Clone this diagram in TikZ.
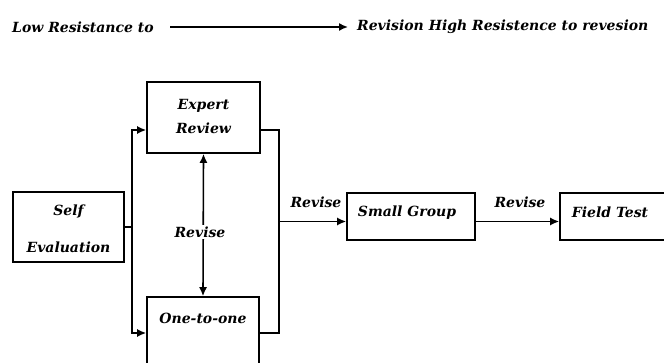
\documentclass[tikz,border=0pt]{standalone}
\usepackage{fontspec}
\setmainfont{DejaVu Serif}
\usetikzlibrary{arrows.meta}
\begin{document}
\begin{tikzpicture}[x=1pt,y=-1pt,
  txt/.style={font=\fontsize{14}{17}\selectfont\bfseries\itshape, inner sep=0pt},
  box/.style={draw, line width=1.6pt, inner sep=0pt},
  conn/.style={line width=1.6pt},
  arr/.style={conn,-{Latex[length=9pt,width=8pt]}},
  darr/.style={conn,{Latex[length=9pt,width=8pt]}-{Latex[length=9pt,width=8pt]}},
]
\useasboundingbox (0,0) rectangle (664,363);
\clip (0,0) rectangle (664,363);
\fill[white] (0,0) rectangle (664,363);

% top line
\node[txt, anchor=west] (low) at (12,27) {Low Resistance to};
\node[txt, anchor=west] (high) at (357,27) {Revision High Resistence to revesion};
\coordinate (a1) at (170,27);
\coordinate (a2) at (348,27);
\draw[arr] (a1) -- (a2);

% boxes
\node[box, minimum width=111pt, minimum height=70pt] (self) at (68.5,227) {};
\node[txt, align=center, font=\fontsize{14}{37}\selectfont\bfseries\itshape] (selft) at (68.5,229) {Self\\Evaluation};

\node[box, minimum width=113pt, minimum height=71pt] (expert) at (203.5,117.5) {};
\node[txt, align=center, font=\fontsize{14}{24}\selectfont\bfseries\itshape] (expertt) at (203.5,116) {Expert\\Review};

\node[box, minimum width=112pt, minimum height=72pt] (one) at (203,333) {};
\node[txt] (onet) at (203,318) {One-to-one};

\node[box, minimum width=128pt, minimum height=47pt] (small) at (411,216.5) {};
\node[txt] (smallt) at (407,213) {Small Group};

\node[box, minimum width=150pt, minimum height=47pt] (field) at (635,216.5) {};
\node[txt] (fieldt) at (610,212) {Field Test};

% connectors
\draw[conn] (self.east) -- ++(7,0) coordinate (j1);
\draw[arr] (j1) |- ([yshift=-12.5pt]expert.west);
\draw[arr] (j1) |- (one.west);

\draw[conn] ([yshift=-12.5pt]expert.east) -| (279,227) coordinate (j2);
\draw[conn] (one.east) -| (j2);
\draw[arr] (279,221.5) coordinate (j3) -- ([yshift=-5pt]small.west);
\draw[arr] ([yshift=-5pt]small.east) -- ([yshift=-5pt]field.west);

\draw[darr] (expert.south) -- (one.north);
\node[txt, fill=white, inner sep=2pt] (rev1) at (200,232) {Revise};
\node[txt] (rev2) at (316,202) {Revise};
\node[txt] (rev3) at (520,202) {Revise};
\end{tikzpicture}
\end{document}
